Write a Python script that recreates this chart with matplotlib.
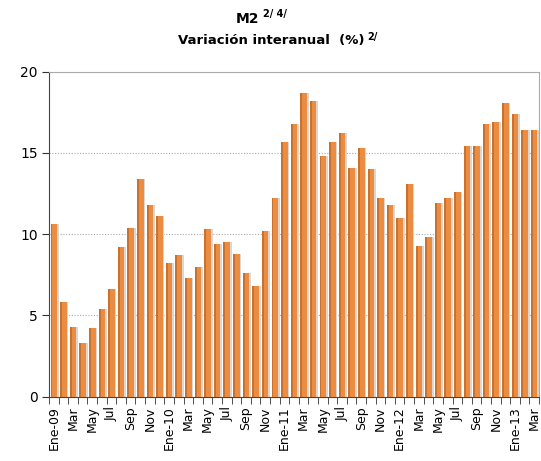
import numpy as np
import matplotlib
matplotlib.use('Agg')
from matplotlib import pyplot as plt

# monthly data Ene-09 .. Mar-13
valores = [10.6, 5.8, 4.3, 3.3, 4.2, 5.4, 6.6, 9.2, 10.4, 13.4, 11.8, 11.1,
           8.2, 8.7, 7.3, 8.0, 10.3, 9.4, 9.5, 8.8, 7.6, 6.8, 10.2, 12.2,
           15.7, 16.8, 18.7, 18.2, 14.8, 15.7, 16.2, 14.1, 15.3, 14.0, 12.2, 11.8,
           11.0, 13.1, 9.3, 9.8, 11.9, 12.2, 12.6, 15.4, 15.4, 16.8, 16.9, 18.1,
           17.4, 16.4, 16.4]
etiquetas = ['Ene-09', 'Mar', 'May', 'Jul', 'Sep', 'Nov',
             'Ene-10', 'Mar', 'May', 'Jul', 'Sep', 'Nov',
             'Ene-11', 'Mar', 'May', 'Jul', 'Sep', 'Nov',
             'Ene-12', 'Mar', 'May', 'Jul', 'Sep', 'Nov',
             'Ene-13', 'Mar']
yticks = [0, 5, 10, 15, 20]

fig = plt.figure(figsize=(5.41, 4.61), dpi=100)
ax = fig.add_axes([0.0906, 0.1395, 0.9057, 0.705])

x = np.arange(len(valores))
# soft shadow, then bar, then darker left edge
ax.bar(x + 0.16, valores, width=0.72, color='#dcd6d0', zorder=2)
ax.bar(x, valores, width=0.68, color='#ea8d42', zorder=3)
ax.bar(x - 0.24, valores, width=0.2, color='#c9722e', zorder=4)

ax.set_xlim(-0.5, len(valores) - 0.5)
ax.set_ylim(0, 20)
ax.set_yticks(yticks)
ax.set_yticklabels([str(v) for v in yticks], fontsize=10)
ax.set_xticks(x[::2])
ax.set_xticklabels(etiquetas, rotation=90, fontsize=9)
ax.set_xticks(np.arange(-0.5, len(valores), 1), minor=True)
ax.tick_params(axis='x', which='major', length=0, pad=7)
ax.tick_params(axis='x', which='minor', length=5, direction='out', color='#333333')
ax.tick_params(axis='y', length=5, direction='out', color='#333333', pad=3)

for g in [5, 10, 15]:
    ax.axhline(g, color='#aaaaaa', lw=0.8, ls=(0, (1, 1.5)), zorder=1)

ax.spines['left'].set_color('#444444')
ax.spines['bottom'].set_color('#444444')
ax.spines['top'].set_color('#aaaaaa')
ax.spines['right'].set_color('#aaaaaa')

t1 = fig.text(0.457, 0.958, 'M2', fontsize=10, fontweight='bold', ha='center', va='center')
fig.text(0.487, 0.970, '2/ 4/', fontsize=7, fontweight='bold', ha='left', va='center')
t2 = fig.text(0.502, 0.912, 'Variación interanual  (%)', fontsize=9.5, fontweight='bold',
              ha='center', va='center')
ax.annotate('2/', xy=(1, 0.75), xycoords=t2, xytext=(2, 0), textcoords='offset points',
            fontsize=7, fontweight='bold', ha='left', va='center')

fig.savefig('out.png', dpi=100)
